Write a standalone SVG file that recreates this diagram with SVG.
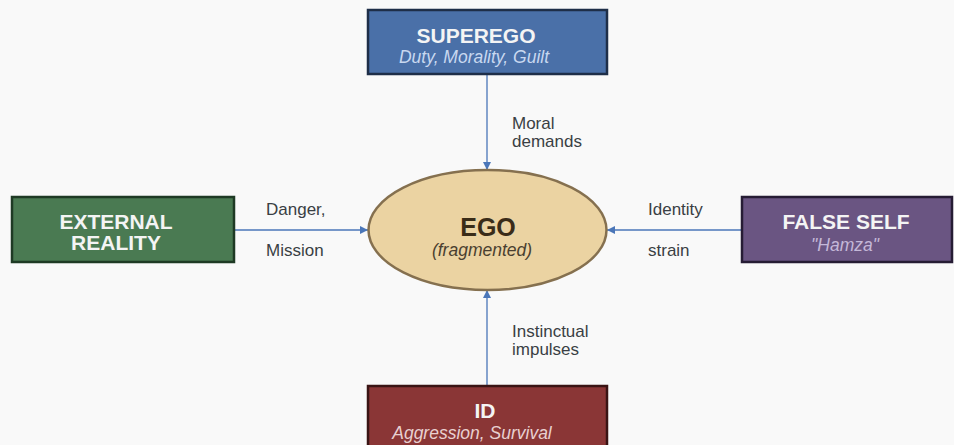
<svg xmlns="http://www.w3.org/2000/svg" width="954" height="445" viewBox="0 0 954 445">
<style>
.title{font-family:"Liberation Sans",Arial,sans-serif;font-weight:bold;font-size:21px;fill:#f4f4f4;text-anchor:middle}
.sub{font-family:"Liberation Sans",Arial,sans-serif;font-style:italic;font-size:17.5px;text-anchor:middle}
.lbl{font-family:"Liberation Sans",Arial,sans-serif;font-size:17px;fill:#3a3f44}
.conn{stroke:#4a76b8;stroke-width:1.3;fill:none;marker-end:url(#arr)}
</style>
<defs>
<marker id="arr" viewBox="0 0 10 10" refX="10" refY="5" markerWidth="8" markerHeight="8" markerUnits="userSpaceOnUse" orient="auto">
<path d="M0,0 L10,5 L0,10 z" fill="#4a76b8"/>
</marker>
</defs>
<rect width="954" height="445" fill="#f9f9f9"/>
<g id="connectors">
<line class="conn" x1="487" y1="75" x2="487" y2="170"/>
<line class="conn" x1="235" y1="230" x2="368" y2="230"/>
<line class="conn" x1="742" y1="230" x2="607" y2="230"/>
<line class="conn" x1="487" y1="385" x2="487" y2="290"/>
<text class="lbl" x="512" y="129">Moral</text>
<text class="lbl" x="512" y="147">demands</text>
<text class="lbl" x="266" y="215">Danger,</text>
<text class="lbl" x="266" y="256">Mission</text>
<text class="lbl" x="648" y="215">Identity</text>
<text class="lbl" x="648" y="256">strain</text>
<text class="lbl" x="512" y="337">Instinctual</text>
<text class="lbl" x="512" y="355">impulses</text>
</g>
<g id="superego">
<rect x="368" y="10" width="239" height="64" fill="#4a70a8" stroke="#1e2e48" stroke-width="2.5"/>
<text class="title" x="476" y="43">SUPEREGO</text>
<text class="sub" x="474" y="63" fill="#c8d8f0">Duty, Morality, Guilt</text>
</g>
<g id="ego">
<ellipse cx="487.5" cy="230" rx="119" ry="60" fill="#ebd3a2" stroke="#85704f" stroke-width="2.5"/>
<text x="488" y="236" font-family="Liberation Sans,Arial,sans-serif" font-weight="bold" font-size="25" fill="#3a2c18" text-anchor="middle">EGO</text>
<text class="sub" x="482" y="256" fill="#4a3f30">(fragmented)</text>
</g>
<g id="external">
<rect x="12" y="197" width="222" height="65" fill="#4a7a52" stroke="#1e3a24" stroke-width="2.5"/>
<text class="title" x="116" y="229">EXTERNAL</text>
<text class="title" x="116" y="250">REALITY</text>
</g>
<g id="falseself">
<rect x="742" y="197" width="210" height="65" fill="#6a5582" stroke="#261c34" stroke-width="2.5"/>
<text class="title" x="846" y="229">FALSE SELF</text>
<text class="sub" x="845" y="251" fill="#c4b8d8">"Hamza"</text>
</g>
<g id="id">
<rect x="368" y="386" width="239" height="64" fill="#8a3636" stroke="#3a1414" stroke-width="2.5"/>
<text class="title" x="485" y="418">ID</text>
<text class="sub" x="472" y="439" fill="#e8d0d0">Aggression, Survival</text>
</g>
</svg>
